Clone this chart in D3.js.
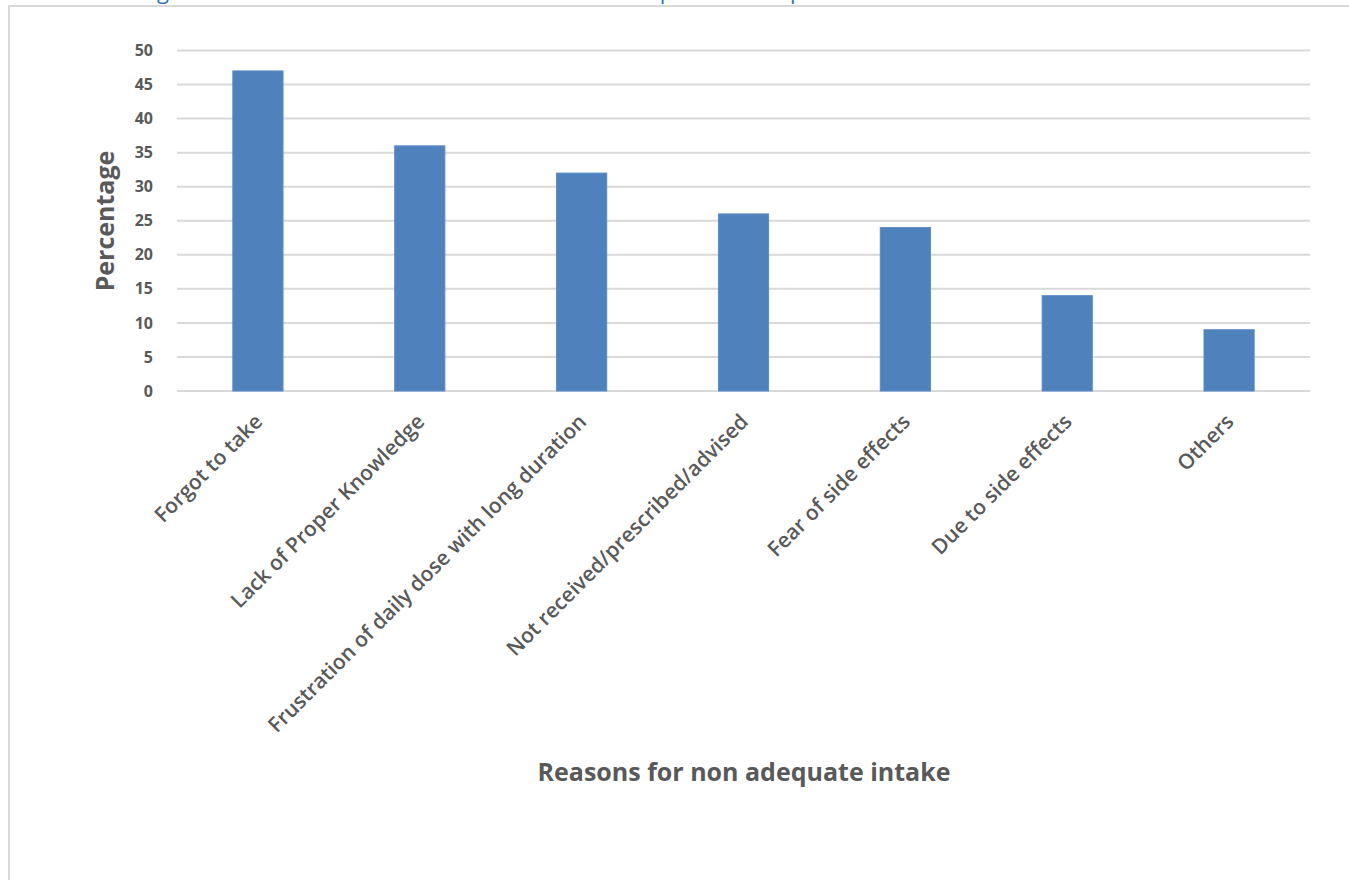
<!DOCTYPE html>
<html>
<head>
<meta charset="utf-8">
<style>
  body { margin: 0; background: #fff; }
  text { font-family: "Open Sans", "DejaVu Sans", sans-serif; }
</style>
</head>
<body>
<script src="https://d3js.org/d3.v7.min.js"></script>
<script>
var categories = ['Forgot to take', 'Lack of Proper Knowledge', 'Frustration of daily dose with long duration',
                  'Not received/prescribed/advised', 'Fear of side effects', 'Due to side effects', 'Others'];
var percentages = [47, 36, 32, 26, 24, 14, 9];
var yTicks = [0, 5, 10, 15, 20, 25, 30, 35, 40, 45, 50];

var width = 1349, height = 880;
var plotLeft = 177, plotRight = 1310, plotTop = 50.5, plotBottom = 391;

var svg = d3.select('body').append('svg')
    .attr('width', width)
    .attr('height', height);

// cut-off caption above the chart frame
svg.append('text')
    .attr('x', 140).attr('y', -1)
    .attr('font-size', 22)
    .attr('fill', '#2e74b5')
    .text('Figure 5: Reasons for the non-adherence of the respondents to prescribed IFA');

// chart frame
svg.append('path')
    .attr('d', 'M9,' + height + 'V6H' + width)
    .attr('fill', 'none')
    .attr('stroke', '#d9d9d9')
    .attr('stroke-width', 2);

var x = d3.scaleBand()
    .domain(categories)
    .range([plotLeft, plotRight])
    .paddingInner(0.69)
    .paddingOuter(0.345);

var y = d3.scaleLinear()
    .domain([0, 50])
    .range([plotBottom, plotTop]);

// gridlines
svg.append('g').selectAll('line')
    .data(yTicks)
    .enter().append('line')
    .attr('x1', plotLeft).attr('x2', plotRight)
    .attr('y1', function(d){ return y(d); })
    .attr('y2', function(d){ return y(d); })
    .attr('stroke', '#d9d9d9')
    .attr('stroke-width', 2);

// bars
svg.append('g').selectAll('rect')
    .data(percentages)
    .enter().append('rect')
    .attr('x', function(d, i){ return x(categories[i]); })
    .attr('width', x.bandwidth())
    .attr('y', function(d){ return y(d); })
    .attr('height', function(d){ return y(0) - y(d); })
    .attr('fill', '#4f81bd')
    .attr('stroke', '#5b8cc6')
    .attr('stroke-width', 1);

// y axis labels
var yAxis = svg.append('g')
    .attr('transform', 'translate(' + plotLeft + ',0)')
    .call(d3.axisLeft(y).tickValues(yTicks).tickSize(0).tickPadding(24));
yAxis.select('.domain').remove();
yAxis.selectAll('text')
    .attr('font-family', '"Open Sans", sans-serif')
    .attr('font-size', 16)
    .attr('font-weight', 700)
    .attr('fill', '#595959');

// x axis labels
var xAxis = svg.append('g')
    .attr('transform', 'translate(0,' + plotBottom + ')')
    .call(d3.axisBottom(x).tickSize(0));
xAxis.select('.domain').remove();
xAxis.selectAll('text')
    .attr('font-family', '"Open Sans", sans-serif')
    .attr('font-size', 21)
    .attr('font-weight', 600)
    .attr('fill', '#595959')
    .attr('text-anchor', 'end')
    .attr('dy', null)
    .attr('y', 0)
    .attr('transform', 'translate(6,32) rotate(-45)');

// axis titles
svg.append('text')
    .attr('transform', 'translate(114,221) rotate(-90)')
    .attr('text-anchor', 'middle')
    .attr('font-size', 25)
    .attr('font-weight', 700)
    .attr('fill', '#595959')
    .text('Percentage');

svg.append('text')
    .attr('x', 744).attr('y', 781)
    .attr('text-anchor', 'middle')
    .attr('font-size', 25)
    .attr('font-weight', 700)
    .attr('fill', '#595959')
    .text('Reasons for non adequate intake');
</script>
</body>
</html>
